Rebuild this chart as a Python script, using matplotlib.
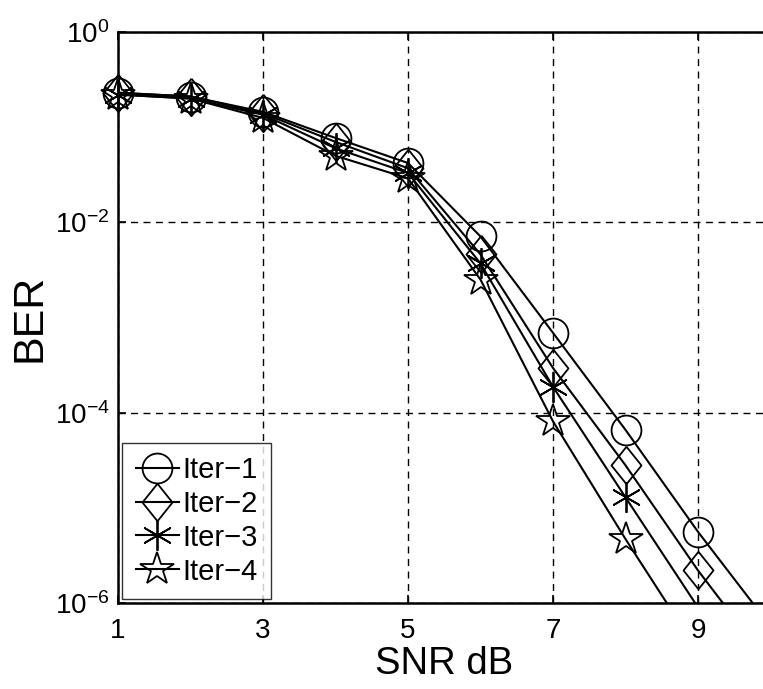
import numpy as np
import matplotlib.pyplot as plt

plt.rcParams['font.family'] = ['Liberation Sans', 'DejaVu Sans']

snr = [1, 2, 3, 4, 5, 6, 7, 8, 9, 10]

ber_iter1 = [0.23, 0.21, 0.145, 0.077, 0.042, 0.0071, 6.9e-4, 6.6e-5, 5.6e-6, 5.7e-7]
ber_iter2 = [0.23, 0.21, 0.14, 0.07, 0.037, 0.0046, 2.95e-4, 2.8e-5, 2.2e-6, 2.2e-7]
ber_iter3 = [0.22, 0.2, 0.135, 0.06, 0.033, 0.0037, 1.87e-4, 1.29e-5, 9e-7, 6e-8]
ber_iter4 = [0.22, 0.2, 0.125, 0.05, 0.029, 0.0025, 8.1e-5, 4.7e-6, 3.1e-7, 2e-8]

labels = ['Iter\u22121', 'Iter\u22122', 'Iter\u22123', 'Iter\u22124']
xtick_vals = [1, 3, 5, 7, 9]
ytick_vals = [1e-6, 1e-4, 1e-2, 1]
ytick_labels = [r'$\mathregular{10^{-6}}$', r'$\mathregular{10^{-4}}$',
                r'$\mathregular{10^{-2}}$', r'$\mathregular{10^{0}}$']

diamond = [(0, 1), (0.8, 0), (0, -1), (-0.8, 0), (0, 1)]
markers = ['o', diamond, (6, 2, 0), '*']
msizes = [21.5, 27, 22, 25]

fig = plt.figure(figsize=(7.63, 6.89), dpi=100)
ax = fig.add_axes([118 / 763, 86 / 689, 652.5 / 763, 571 / 689])

x = np.array(snr)
for ber, lab, mk, ms in zip([ber_iter1, ber_iter2, ber_iter3, ber_iter4], labels, markers, msizes):
    ber = np.array(ber)
    style = dict(color='black', linewidth=1.5, marker=mk, markersize=ms,
                 markerfacecolor='none', markeredgecolor='black', markeredgewidth=1.3)
    # line is clipped at the axes, markers inside the range are drawn whole
    ax.semilogy(x, ber, color='black', linewidth=1.5)
    vis = ber >= 1e-6
    ax.semilogy(x[vis], ber[vis], linestyle='none', marker=mk, markersize=ms,
                markerfacecolor='none', markeredgecolor='black', markeredgewidth=1.3,
                clip_on=False)
    ax.plot([], [], **style, label=lab)

ax.set_xlim(1, 10)
ax.set_ylim(1e-6, 1)
ax.set_xticks(xtick_vals)
ax.set_yticks(ytick_vals)
ax.set_yticklabels(ytick_labels)
ax.minorticks_off()
ax.grid(True, color='black', linestyle=(0, (5, 4)), linewidth=1.0)
ax.tick_params(direction='in', top=True, right=True, labelsize=20, length=6, width=1.2)
ax.tick_params(axis='x', pad=11)
ax.tick_params(axis='y', pad=6)

for axis in ['top', 'bottom', 'left', 'right']:
    ax.spines[axis].set_linewidth(1.8)

ax.set_xlabel('SNR dB', fontsize=27.5, labelpad=1)
ax.set_ylabel('BER', fontsize=31, labelpad=4)

leg = ax.legend(loc='lower left', fontsize=21, frameon=True, fancybox=False,
                edgecolor='black', handlelength=1.5, handletextpad=0.1,
                borderpad=0.45, labelspacing=0.2, borderaxespad=0.15, markerscale=1.0)
leg.get_frame().set_linewidth(1.0)

fig.savefig('out.png', dpi=100)
